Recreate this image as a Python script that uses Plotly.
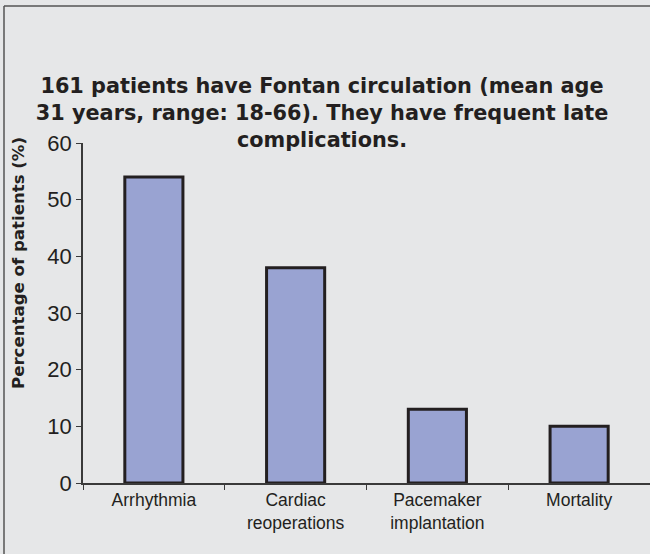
import plotly.graph_objects as go

categories = ["Arrhythmia", "Cardiac<br>reoperations", "Pacemaker<br>implantation", "Mortality"]
values = [54, 38, 13, 10]
y_ticks = [0, 10, 20, 30, 40, 50, 60]

title_text = ("<b>161 patients have Fontan circulation (mean age<br>"
              "31 years, range: 18-66). They have frequent late<br>"
              "complications.</b>")
y_title = "<b>Percentage of patients (%)</b>"

W, H = 650, 554
L, R, T, B = 83, 0, 143, 71
pw = W - L - R
ph = H - T - B

def px_to_paper_x(px):
    return (px - L) / pw

def px_to_paper_y(py):
    return (H - B - py) / ph

fig = go.Figure(go.Bar(
    x=categories, y=values,
    marker=dict(color="#99a3d2", line=dict(color="#231f20", width=3)),
    width=0.41,
))

bg = "#e6e7e8"
fig.update_layout(
    width=W, height=H,
    margin=dict(l=L, r=R, t=T, b=B),
    paper_bgcolor=bg, plot_bgcolor=bg,
    font=dict(family="Liberation Sans, Arial, sans-serif", color="#231f20"),
    showlegend=False,
    title=dict(text=title_text, x=322 / W, xanchor="center", xref="container",
               y=1 - 93 / H, yanchor="top",
               font=dict(family="DejaVu Sans, sans-serif", size=20.8, color="#231f20")),
    xaxis=dict(showgrid=False, showline=True, linecolor="#3a3a3a", linewidth=1.5,
               ticks="outside", tickson="boundaries", ticklen=5, tickcolor="#3a3a3a",
               tickfont=dict(size=17.5, color="#231f20"), zeroline=False),
    yaxis=dict(range=[0, 60], tickvals=y_ticks, showgrid=False, showline=True,
               linecolor="#3a3a3a", linewidth=1.5, ticks="outside", ticklen=5,
               tickcolor="#3a3a3a", tickfont=dict(size=22, color="#231f20"), zeroline=False),
    annotations=[dict(text=y_title, textangle=-90, x=px_to_paper_x(18), y=px_to_paper_y(263),
                      xref="paper", yref="paper", showarrow=False, xanchor="center", yanchor="middle",
                      font=dict(family="DejaVu Sans, sans-serif", size=16.6, color="#231f20"))],
    shapes=[
        dict(type="line", xref="paper", yref="paper",
             x0=px_to_paper_x(4), x1=px_to_paper_x(4), y0=px_to_paper_y(6), y1=px_to_paper_y(560),
             line=dict(color="#555555", width=1.5)),
        dict(type="line", xref="paper", yref="paper",
             x0=px_to_paper_x(4), x1=px_to_paper_x(660), y0=px_to_paper_y(6), y1=px_to_paper_y(6),
             line=dict(color="#555555", width=1.5)),
    ],
)

fig.write_html("out.html", config={"displayModeBar": False},
               post_script="document.body.style.margin='0';document.body.style.overflow='hidden';")
